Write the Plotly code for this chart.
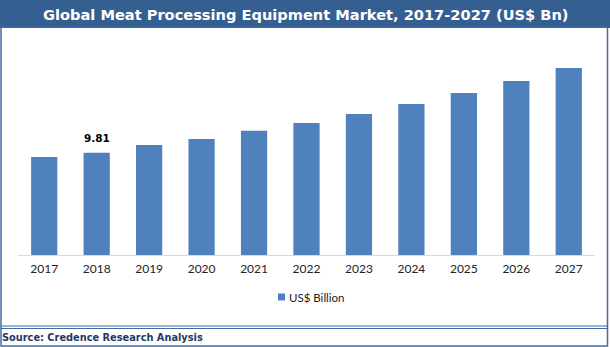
import plotly.graph_objects as go

# Market size by year, US$ billion
years = ["2017", "2018", "2019", "2020", "2021", "2022", "2023", "2024", "2025", "2026", "2027"]
market_bn = [9.40, 9.81, 10.55, 11.12, 11.92, 12.66, 13.52, 14.48, 15.53, 16.68, 17.93]
series_name = "US$ Billion"
labelled_year = "2018"

title_text = "Global Meat Processing Equipment Market, 2017-2027 (US$ Bn)"
source_text = "Source: Credence Research Analysis"

W, H = 610, 347
BAR = "#4F81BD"
NAVY = "#365F91"
BORDER = "#3F6CA6"


def py(px):
    """Convert a pixel row (from top) to paper y."""
    return 1 - px / H


def px_x(px):
    return px / W


fig = go.Figure()
fig.add_trace(go.Bar(
    x=years, y=market_bn, name=series_name,
    marker=dict(color=BAR, line=dict(width=0)),
    showlegend=False,
))

# value label above the 2018 bar (category axes take the serial index)
i = years.index(labelled_year)
fig.add_annotation(
    x=i, y=market_bn[i], xref="x", yref="y", text=f"<b>{market_bn[i]:.2f}</b>",
    showarrow=False, yanchor="bottom", yshift=7,
    font=dict(family="DejaVu Sans", size=10.5, color="#000000"),
)

# title band, frame, footer rules and legend swatch
fig.add_shape(type="rect", xref="paper", yref="paper", x0=0, x1=1, y0=py(28), y1=1,
              fillcolor=NAVY, line=dict(width=0), layer="below")
fig.add_shape(type="rect", xref="paper", yref="paper", x0=px_x(1), x1=px_x(607.5),
              y0=py(346), y1=py(27), line=dict(color=BORDER, width=1.5))
for yy in (326, 328.5):
    fig.add_shape(type="line", xref="paper", yref="paper", x0=px_x(1), x1=px_x(607.5),
                  y0=py(yy), y1=py(yy), line=dict(color=BORDER, width=1.2))
fig.add_shape(type="rect", xref="paper", yref="paper", x0=px_x(278), x1=px_x(285),
              y0=py(300.5), y1=py(293.5), fillcolor=BAR, line=dict(width=0))

fig.add_annotation(text=f"<b>{title_text}</b>", xref="paper", yref="paper", x=0.5, y=py(14),
                   xanchor="center", yanchor="middle", showarrow=False,
                   font=dict(family="DejaVu Sans", size=14.6, color="#FFFFFF"))
fig.add_annotation(text=series_name, xref="paper", yref="paper", x=px_x(287), y=py(297),
                   xanchor="left", yanchor="middle", showarrow=False,
                   font=dict(family="Lato, Open Sans", size=11.5, color="#222222"))
fig.add_annotation(text=f"<b>{source_text}</b>", xref="paper", yref="paper", x=px_x(0), y=py(337),
                   xanchor="left", yanchor="middle", showarrow=False, align="left",
                   font=dict(family="DejaVu Sans", size=9.8, color="#1F3864"))

fig.update_layout(
    width=W, height=H,
    margin=dict(l=0, r=0, t=0, b=0),
    paper_bgcolor="#FFFFFF", plot_bgcolor="#FFFFFF",
    bargap=0.5,
    xaxis=dict(
        type="category",
        range=[-0.5, len(years) - 0.5],
        domain=[px_x(18), px_x(595)],
        showline=True, linecolor="#D9D9D9", linewidth=1,
        showgrid=False, ticks="", ticklabelstandoff=3,
        tickfont=dict(family="Lato, Open Sans", size=12, color="#222222"),
        fixedrange=True,
    ),
    yaxis=dict(
        domain=[py(255), py(46.4)],
        range=[0, 20], visible=False, showgrid=False, zeroline=False,
        fixedrange=True,
    ),
)

fig.write_html("out.html")
